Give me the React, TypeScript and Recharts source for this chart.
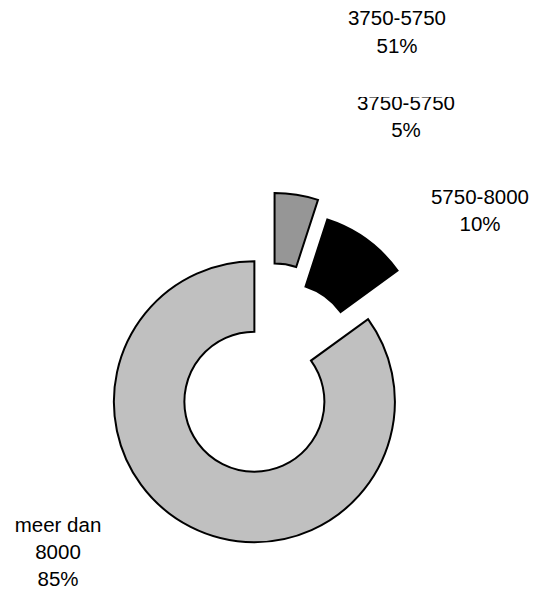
import { PieChart, Pie, Cell, Sector } from "recharts";

const categories = ["3750-5750", "5750-8000", "meer dan 8000"];
const shares = [5, 10, 85];
// label text, split into lines as in the original
const labelLines = [["3750-5750"], ["5750-8000"], ["meer dan", "8000"]];
// leftover label floating above the chart
const strayLabel = ["3750-5750", "51%"];

const colors = ["#969696", "#000000", "#c0c0c0"];
const explode = [42, 27, 30];
const labelPos = [
  { x: 406, y: 103 },
  { x: 480, y: 197 },
  { x: 58, y: 525 },
];
const LINE = 26.8;
const RAD = Math.PI / 180;
const FONT = "Liberation Sans, Arial, sans-serif";

const data = categories.map((name, i) => ({ name, value: shares[i] }));

const renderSlice = (props: any) => {
  const i = data.findIndex((d) => d.name === props.name);
  const d = explode[i] ?? 0;
  const dx = d * Math.cos(-props.midAngle * RAD);
  const dy = d * Math.sin(-props.midAngle * RAD);
  return <Sector {...props} cx={props.cx + dx} cy={props.cy + dy} />;
};

const renderLabel = (props: any) => {
  const i = props.index;
  const p = labelPos[i];
  const lines = [...labelLines[i], `${shares[i]}%`];
  return (
    <g>
      {lines.map((t, k) => (
        <text
          key={k}
          x={p.x}
          y={p.y + k * LINE + 7}
          textAnchor="middle"
          fill="#000"
          fontSize={20.5}
          fontFamily={FONT}
        >
          {t}
        </text>
      ))}
    </g>
  );
};

const App = () => {
  return (
    <div style={{ position: "absolute", left: 0, top: 0, width: 538, height: 590, background: "#fff" }}>
      <PieChart width={538} height={590} margin={{ top: 0, right: 0, bottom: 0, left: 0 }} style={{ overflow: "visible" }}>
        <Pie
          data={data}
          dataKey="value"
          nameKey="name"
          cx={268}
          cy={375}
          innerRadius={70}
          outerRadius={140.5}
          startAngle={90}
          endAngle={-270}
          stroke="#000"
          strokeWidth={2}
          shape={renderSlice}
          inactiveShape={renderSlice}
          activeShape={renderSlice}
          label={renderLabel}
          labelLine={false}
          isAnimationActive={false}
        >
          {data.map((d, i) => (
            <Cell key={d.name} fill={colors[i]} />
          ))}
        </Pie>
      </PieChart>
      <svg width={538} height={100} style={{ position: "absolute", left: 0, top: 0 }}>
        {/* the floating label's box hides the top of the label below it */}
        <rect x={345} y={0} width={110} height={97} fill="#fff" />
        {strayLabel.map((t, k) => (
          <text
            key={k}
            x={397}
            y={18 + k * 28 + 7}
            textAnchor="middle"
            fill="#000"
            fontSize={20.5}
            fontFamily={FONT}
          >
            {t}
          </text>
        ))}
      </svg>
    </div>
  );
};

export default App;
